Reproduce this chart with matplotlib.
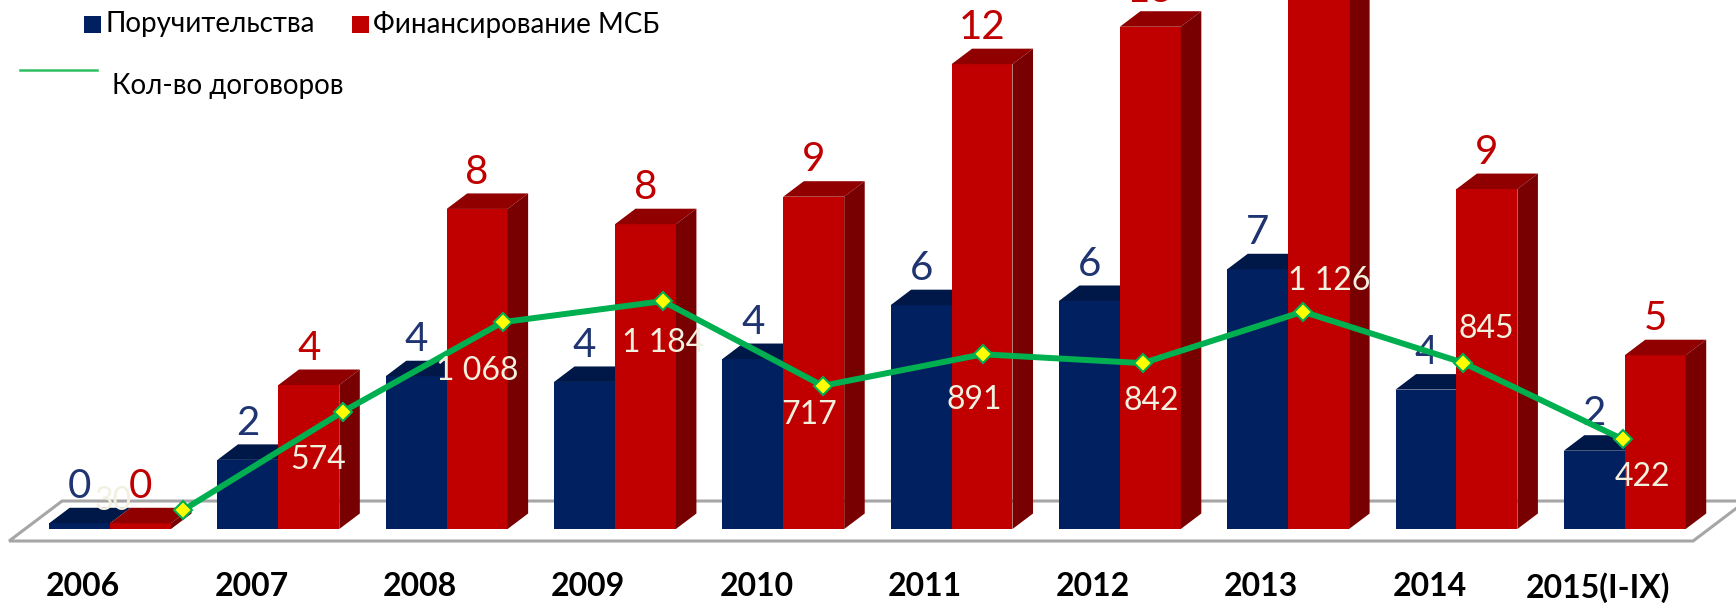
import numpy as np
import matplotlib
matplotlib.use("Agg")
import matplotlib.pyplot as plt
from matplotlib.patches import Polygon, Rectangle
from matplotlib.lines import Line2D

plt.rcParams["font.family"] = ["Lato", "Open Sans", "DejaVu Sans"]

# ---- data ----
years = ["2006", "2007", "2008", "2009", "2010", "2011", "2012", "2013", "2014", "2015(I-IX)"]
guarantees = [0.15, 1.81, 4.0, 3.85, 4.45, 5.86, 5.97, 6.8, 3.65, 2.05]     # Поручительства
financing = [0.15, 3.77, 8.38, 7.98, 8.7, 12.17, 13.15, 14.6, 8.9, 4.55]   # Финансирование МСБ
contracts = [30, 574, 1068, 1184, 717, 891, 842, 1126, 845, 422]           # Кол-во договоров

# ---- style ----
BLUE, BLUE_TOP = "#002060", "#001848"
RED, RED_TOP, RED_SIDE = "#C00000", "#900000", "#780000"
BLUE_TXT, RED_TXT = "#1F3470", "#C00000"
GREEN = "#00B050"
LBL_TXT = "#F2F0DE"

W, H = 1736, 603
fig = plt.figure(figsize=(W / 100, H / 100), dpi=100)

# main axes for the pseudo-3D bars
b = 50 / H
ax = fig.add_axes([0, b, 1, 1 - b])
ax.set_xlim(-0.654, 9.661)
ax.set_ylim(-0.628, 13.85)
ax.patch.set_visible(False)
for s in ax.spines.values():
    s.set_visible(False)
ax.set_yticks([])

x = np.arange(len(years))
w = 0.362          # bar width (group units)
dx, dy = 0.122, 0.406  # depth offsets

# floor
ax.add_patch(Polygon([(-0.600, -0.314), (9.406, -0.314), (9.72, 0.733), (-0.285, 0.733)],
                     closed=True, facecolor="white", edgecolor="#A6A6A6", lw=2.2, zorder=1))

ax.bar(x - w, guarantees, width=w, align="edge", color=BLUE, lw=0, zorder=3)
ax.bar(x, financing, width=w, align="edge", color=RED, lw=0, zorder=4)

for xi, g, f in zip(x, guarantees, financing):
    ax.add_patch(Polygon([(xi - w, g), (xi - w + dx, g + dy), (xi + dx, g + dy), (xi, g)],
                         color=BLUE_TOP, lw=0, zorder=3))
    ax.add_patch(Polygon([(xi, f), (xi + dx, f + dy), (xi + w + dx, f + dy), (xi + w, f)],
                         color=RED_TOP, lw=0, zorder=4))
    ax.add_patch(Polygon([(xi + w, 0), (xi + w + dx, dy), (xi + w + dx, f + dy), (xi + w, f)],
                         color=RED_SIDE, lw=0, zorder=4))
    ax.annotate(f"{g:.0f}", (xi - w / 2, g + dy), xytext=(0, 7), textcoords="offset points",
                ha="center", va="baseline", fontsize=29, color=BLUE_TXT, zorder=6)
    ax.annotate(f"{f:.0f}", (xi + w / 2, f + dy), xytext=(0, 7), textcoords="offset points",
                ha="center", va="baseline", fontsize=29, color=RED_TXT, zorder=6)

ax.set_xticks(x - 0.16)
ax.set_xticklabels(years, fontsize=23, fontweight="bold")
ax.tick_params(axis="x", length=0, pad=14)

# line axes (secondary scale)
ax2 = fig.add_axes([0, 0, 1, 1])
ax2.set_xlim(-1.142, 9.708)
ax2.set_ylim(-481, 2845)
ax2.axis("off")
ax2.plot(x, contracts, color=GREEN, lw=4.3, marker="D", ms=9,
         mfc="#FFFF00", mec=GREEN, mew=1.5, zorder=5)

offsets = [(-50, 7), (-18, -35), (-18, -35), (0, -30), (-10, -21),
           (-6, -33), (6, -27), (19, 22), (17, 24), (14, -27)]
for xi, v, (ox, oy) in zip(x, contracts, offsets):
    ax2.annotate(f"{v:,}".replace(",", " "), (xi, v), xytext=(ox, oy), textcoords="offset points",
                 ha="center", va="center", fontsize=23, color=LBL_TXT, zorder=7)

# legend (manual, matches original layout)
fig.add_artist(Rectangle((84 / W, 1 - 33 / H), 17 / W, 17 / H, transform=fig.transFigure,
                         facecolor=BLUE, lw=0))
fig.text(106 / W, 1 - 24 / H, "Поручительства", fontsize=20, va="center", ha="left")
fig.add_artist(Rectangle((352 / W, 1 - 33 / H), 17 / W, 17 / H, transform=fig.transFigure,
                         facecolor=RED, lw=0))
fig.text(373 / W, 1 - 24 / H, "Финансирование МСБ", fontsize=20, va="center", ha="left")
fig.add_artist(Line2D([20 / W, 97 / W], [1 - 70 / H, 1 - 70 / H], transform=fig.transFigure,
                      color="#2EBE62", lw=1.8))
fig.text(112 / W, 1 - 86 / H, "Кол-во договоров", fontsize=20, va="center", ha="left")

fig.savefig("out.png", dpi=100)
